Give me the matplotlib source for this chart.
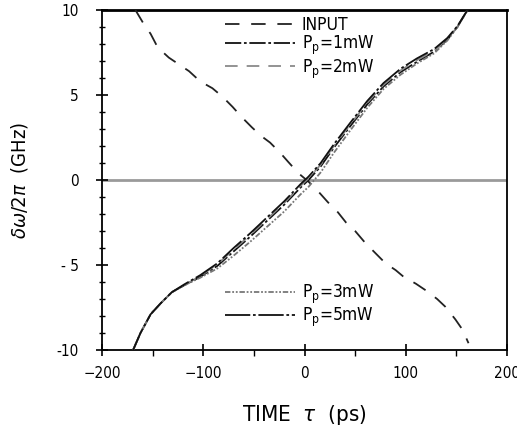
import matplotlib
matplotlib.use("Agg")
import matplotlib.pyplot as plt
from matplotlib.ticker import MultipleLocator

# ---- data ----
t_in = [-167, -159, -152, -145, -134, -124, -114, -103, -91, -81, -71, -62, -52, -43, -34,
        -24, -16, -6, 4, 14, 23, 33, 41, 50, 60, 70, 80, 90, 98, 110, 120, 131, 139, 149, 156, 162]
f_in = [10.0, 9.2, 8.6, 7.8, 7.2, 6.8, 6.4, 5.8, 5.4, 4.9, 4.3, 3.7, 3.1, 2.6, 2.2,
        1.6, 1.06, 0.4, -0.1, -0.7, -1.3, -1.9, -2.5, -3.0, -3.7, -4.3, -4.9, -5.3, -5.7, -6.1,
        -6.5, -7.0, -7.45, -8.2, -8.8, -9.6]

t_out = [-170, -162, -152, -142, -131, -119, -103, -86, -70, -53, -37, -20, -4, 4, 16, 29,
         45, 62, 78, 95, 111, 128, 141, 151, 161]
f_1mw = [-10.1, -9.0, -7.9, -7.25, -6.6, -6.2, -5.7, -5.05, -4.2, -3.3, -2.4, -1.45, -0.45, 0.0,
         0.8, 1.9, 3.15, 4.45, 5.5, 6.35, 6.95, 7.55, 8.25, 9.0, 10.0]
f_2mw = [-10.1, -9.0, -7.9, -7.25, -6.6, -6.2, -5.65, -4.95, -4.1, -3.2, -2.3, -1.35, -0.35, 0.1,
         0.9, 2.0, 3.25, 4.55, 5.6, 6.45, 7.05, 7.6, 8.3, 9.0, 10.0]
f_3mw = [-10.1, -9.0, -7.9, -7.25, -6.6, -6.2, -5.75, -5.2, -4.45, -3.6, -2.75, -1.85, -0.85, -0.4,
         0.45, 1.6, 2.9, 4.25, 5.35, 6.2, 6.85, 7.45, 8.2, 9.0, 10.0]
f_5mw = [-10.1, -9.0, -7.9, -7.25, -6.6, -6.15, -5.6, -4.9, -4.0, -3.1, -2.2, -1.25, -0.25, 0.2,
         1.0, 2.1, 3.35, 4.65, 5.7, 6.55, 7.15, 7.7, 8.35, 9.05, 10.0]

labels = ["INPUT", r"P$_\mathrm{p}$=1mW", r"P$_\mathrm{p}$=2mW", r"P$_\mathrm{p}$=3mW", r"P$_\mathrm{p}$=5mW"]
xticks = [-200, -100, 0, 100, 200]
yticks = [-10, -5, 0, 5, 10]
ytick_labels = ["-10", "- 5", "0", "5", "10"]

# ---- font ----
plt.rcParams["font.family"] = ["DejaVu Sans"]
plt.rcParams["font.stretch"] = "condensed"
plt.rcParams["mathtext.fontset"] = "dejavusans"

fig = plt.figure(figsize=(5.17, 4.34), dpi=100)
ax = fig.add_axes([102/517, 1-350/434, 405/517, 340/434])

ax.axhline(0, color="#9a9a9a", lw=2.0, zorder=1)

l_in, = ax.plot(t_in, f_in, color="#222222", lw=1.3, dashes=(8, 6.5), zorder=3)
l1, = ax.plot(t_out, f_1mw, color="#111111", lw=1.3, dashes=(9, 1.5, 1.5, 1.5), zorder=3)
l2, = ax.plot(t_out, f_2mw, color="#8a8a8a", lw=1.3, dashes=(7, 5), zorder=3)
l3, = ax.plot(t_out, f_3mw, color="#777777", lw=1.3, dashes=(3, 1, 1, 1, 1, 1), zorder=3)
l5, = ax.plot(t_out, f_5mw, color="#111111", lw=1.3, dashes=(14, 1.5, 1.5, 1.5), zorder=3)

ax.set_xlim(-200, 200)
ax.set_ylim(-10, 10)
ax.set_xticks(xticks)
ax.set_yticks(yticks)
ax.set_yticklabels(ytick_labels)
ax.xaxis.set_minor_locator(MultipleLocator(50))
ax.yaxis.set_minor_locator(MultipleLocator(1))
ax.tick_params(which="major", direction="inout", length=9, width=1.2, labelsize=11)
ax.tick_params(axis="y", which="minor", direction="inout", length=5, width=1.0)
ax.tick_params(axis="x", which="minor", direction="out", length=4, width=1.0)
ax.tick_params(axis="x", which="major", pad=7)
ax.tick_params(axis="y", which="major", pad=12)
for s in ax.spines.values():
    s.set_linewidth(1.3)
ax.spines["top"].set_linewidth(2.0)

ax.set_xlabel(r"TIME  $\tau$  (ps)", fontsize=16, labelpad=16)
ax.set_ylabel(r"$\delta\omega$/2$\pi$  (GHz)", fontsize=14.5, labelpad=19)

leg_kw = dict(loc="upper left", frameon=False, handlelength=4.0, labelspacing=0.0,
              handletextpad=0.4, fontsize=12.5, borderaxespad=0, borderpad=0)
leg1 = ax.legend([l_in, l1, l2], labels[:3], bbox_to_anchor=(0.304, 0.982), **leg_kw)
ax.add_artist(leg1)
ax.legend([l3, l5], labels[3:], bbox_to_anchor=(0.304, 0.197), **leg_kw)

fig.savefig("out.png", dpi=100)
